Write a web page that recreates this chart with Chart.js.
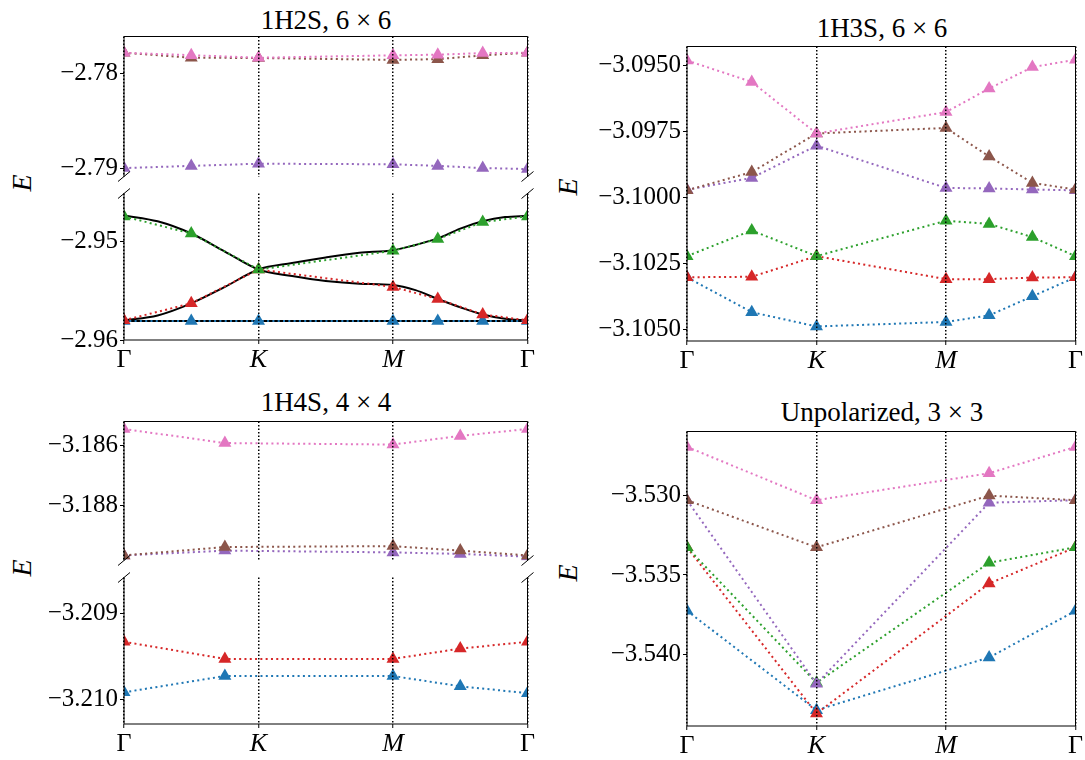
<!DOCTYPE html>
<html>
<head>
<meta charset="utf-8">
<script src="https://cdn.jsdelivr.net/npm/chart.js@4.4.0/dist/chart.umd.min.js"></script>
<style>
  body { margin: 0; background: #fff; width: 1085px; height: 760px; position: relative; overflow: hidden;
         font-family: 'Liberation Serif', 'DejaVu Serif', serif; color: #000; }
  canvas { position: absolute; }
  .title { position: absolute; font-size: 27px; line-height: 27px; white-space: nowrap; transform: translateX(-50%); }
  .ylab { position: absolute; font-size: 28px; line-height: 28px; font-style: italic; transform: translate(-50%, -50%) rotate(-90deg); }
</style>
</head>
<body>
<div class="title" style="left:326px; top:7px;">1H2S, 6 × 6</div>
<div class="title" style="left:882px; top:15px;">1H3S, 6 × 6</div>
<div class="title" style="left:326px; top:389px;">1H4S, 4 × 4</div>
<div class="title" style="left:882px; top:399px;">Unpolarized, 3 × 3</div>
<div class="ylab" style="left:22px; top:183px;">E</div>
<div class="ylab" style="left:568px; top:187px;">E</div>
<div class="ylab" style="left:22px; top:568px;">E</div>
<div class="ylab" style="left:568px; top:573px;">E</div>

<script>
// path Γ-K-M-Γ
const pathTicks = [0, 1, 2, 3];
const pathLabels = ['Γ', 'K', 'M', 'Γ'];

// k-points on the path for each grid
const k6 = [0, 0.5, 1, 2, 2.333, 2.667, 3];
const k4 = [0, 0.75, 2, 2.5, 3];
const k3 = [0, 1, 2.333, 3];
const kFine = [0, 0.25, 0.5, 0.75, 1, 1.25, 1.5, 1.75, 2, 2.167, 2.333, 2.5, 2.667, 2.833, 3];

// 1H2S, 6x6
const h2sPink   = [-2.77783, -2.77808, -2.77835, -2.77810, -2.77803, -2.77786, -2.77783];
const h2sBrown  = [-2.77783, -2.77835, -2.77838, -2.77858, -2.77850, -2.77810, -2.77783];
const h2sPurple = [-2.79000, -2.78977, -2.78954, -2.78960, -2.78977, -2.79000, -2.79010];
const h2sGreen  = [-2.94743, -2.94917, -2.95283, -2.95093, -2.94973, -2.94800, -2.94743];
const h2sRed    = [-2.95800, -2.95627, -2.95283, -2.95460, -2.95583, -2.95740, -2.95800];
const h2sBlue   = [-2.95807, -2.95807, -2.95807, -2.95807, -2.95807, -2.95807, -2.95807];
// black model bands (on kFine)
const h2sModelA = [-2.94733, -2.94793, -2.94917, -2.95100, -2.95283, -2.95350, -2.95400, -2.95427,
                   -2.95440, -2.95493, -2.95583, -2.95667, -2.95740, -2.95783, -2.95800];
const h2sModelB = [-2.95800, -2.95750, -2.95627, -2.95460, -2.95283, -2.95217, -2.95160, -2.95113,
                   -2.95087, -2.95033, -2.94967, -2.94867, -2.94793, -2.94750, -2.94737];
const h2sModelC = [-2.95807, -2.95807, -2.95807, -2.95807, -2.95807, -2.95807, -2.95807, -2.95807,
                   -2.95807, -2.95807, -2.95807, -2.95807, -2.95807, -2.95807, -2.95807];
const h2sTicksUp = [-2.78, -2.79];
const h2sTicksLo = [-2.95, -2.96];

// 1H3S, 6x6
const h3sPink   = [-3.09481, -3.09562, -3.09757, -3.09676, -3.09587, -3.09506, -3.09478];
const h3sBrown  = [-3.09972, -3.09903, -3.09757, -3.09736, -3.09844, -3.09944, -3.09969];
const h3sPurple = [-3.09970, -3.09925, -3.09803, -3.09963, -3.09965, -3.09969, -3.09972];
const h3sGreen  = [-3.10221, -3.10124, -3.10221, -3.10087, -3.10099, -3.10149, -3.10221];
const h3sRed    = [-3.10301, -3.10299, -3.10221, -3.10308, -3.10308, -3.10302, -3.10301];
const h3sBlue   = [-3.10301, -3.10433, -3.10487, -3.10470, -3.10445, -3.10373, -3.10301];
const h3sTicks  = [-3.0950, -3.0975, -3.1000, -3.1025, -3.1050];

// 1H4S, 4x4
const h4sPink   = [-3.18544, -3.18591, -3.18596, -3.18567, -3.18544];
const h4sBrown  = [-3.18966, -3.18938, -3.18935, -3.18950, -3.18966];
const h4sPurple = [-3.18966, -3.18950, -3.18956, -3.18961, -3.18970];
const h4sRed    = [-3.20933, -3.20953, -3.20953, -3.20941, -3.20933];
const h4sBlue   = [-3.20992, -3.20973, -3.20973, -3.20985, -3.20993];
const h4sTicksUp = [-3.186, -3.188];
const h4sTicksLo = [-3.209, -3.210];

// Unpolarized, 3x3
const unpPink   = [-3.52693, -3.53029, -3.52859, -3.52693];
const unpBrown  = [-3.53029, -3.53326, -3.53000, -3.53029];
const unpPurple = [-3.53029, -3.54186, -3.53045, -3.53029];
const unpGreen  = [-3.53326, -3.54180, -3.53423, -3.53326];
const unpRed    = [-3.53326, -3.54373, -3.53554, -3.53326];
const unpBlue   = [-3.53726, -3.54352, -3.54020, -3.53726];
const unpTicks  = [-3.530, -3.535, -3.540];

const C = { blue: '#1f77b4', red: '#d62728', green: '#2ca02c', purple: '#9467bd', brown: '#8c564b', pink: '#e377c2' };
// matplotlib draw order: blue, red, green, purple, brown, pink (pink on top)
const ORDER = { blue: 6, red: 5, green: 4, purple: 3, brown: 2, pink: 1 };
const FONT = "'Liberation Serif', 'DejaVu Serif', serif";

function band(xs, ys, name) {
  return {
    data: xs.map((x, i) => ({ x: x, y: ys[i] })),
    borderColor: C[name], backgroundColor: C[name],
    borderWidth: 2, borderDash: [2, 3.3], borderCapStyle: 'butt',
    pointStyle: 'triangle', pointRadius: 7.5, pointHoverRadius: 7.5, pointBorderWidth: 0,
    order: ORDER[name]
  };
}

function model(xs, ys) {
  return {
    data: xs.map((x, i) => ({ x: x, y: ys[i] })),
    borderColor: '#000', borderWidth: 2, pointRadius: 0, pointHoverRadius: 0,
    cubicInterpolationMode: 'monotone', order: 10
  };
}

const framePlugin = {
  id: 'frame',
  afterDraw(chart, args, o) {
    const ctx = chart.ctx, a = chart.chartArea;
    ctx.save();
    ctx.strokeStyle = '#000';
    ctx.lineWidth = 1;
    ctx.beginPath();
    if (o.top) { ctx.moveTo(a.left, a.top); ctx.lineTo(a.right, a.top); }
    if (o.bottom) { ctx.moveTo(a.left, a.bottom); ctx.lineTo(a.right, a.bottom); }
    ctx.moveTo(a.left, a.top); ctx.lineTo(a.left, a.bottom);
    ctx.moveTo(a.right, a.top); ctx.lineTo(a.right, a.bottom);
    if (o.brk) {
      const y = o.brk === 'bottom' ? a.bottom : a.top;
      [a.left, a.right].forEach(x => { ctx.moveTo(x - 6, y + 5); ctx.lineTo(x + 6, y - 5); });
    }
    ctx.stroke();
    ctx.restore();
  }
};

function fmt(v, d) {
  return (v < 0 ? '\u2212' : '') + Math.abs(v).toFixed(d);
}

function noPad(s) {
  s.paddingTop = 0; s.paddingBottom = 0; s.paddingLeft = 0; s.paddingRight = 0;
}

function panel(p) {
  const yW = p.L - p.canvasLeft, xH = p.xLabels ? 34 : 1, pt = 4, pr = 6;
  const w = yW + (p.R - p.L) + pr, h = pt + (p.B - p.T) + xH;
  const c = document.createElement('canvas');
  c.width = w; c.height = h;
  c.style.left = p.canvasLeft + 'px'; c.style.top = (p.T - pt) + 'px';
  c.style.width = w + 'px'; c.style.height = h + 'px';
  document.body.appendChild(c);

  new Chart(c, {
    type: 'line',
    data: { datasets: p.datasets },
    plugins: [framePlugin],
    options: {
      responsive: false, maintainAspectRatio: false, animation: false, events: [],
      devicePixelRatio: 1,
      layout: { padding: { top: pt, right: pr, left: 0, bottom: 0 } },
      plugins: { legend: { display: false }, tooltip: { enabled: false },
                 frame: { top: p.top, bottom: p.bottom, brk: p.brk } },
      scales: {
        x: {
          type: 'linear', min: 0, max: 3,
          afterBuildTicks: s => { s.ticks = pathTicks.map(v => ({ value: v })); },
          afterFit: s => { s.height = xH; noPad(s); },
          grid: { color: '#000', lineWidth: 1.5, z: 1, drawTicks: !!p.xLabels,
                  tickLength: 4, tickColor: '#000', tickWidth: 1 },
          border: { display: false, dash: [1.5, 2] },
          ticks: {
            display: !!p.xLabels, autoSkip: false, maxRotation: 0, padding: 1, color: '#000',
            callback: (v, i) => pathLabels[i],
            font: ctx => ({ family: FONT, size: 26, style: (ctx.index === 1 || ctx.index === 2) ? 'italic' : 'normal' })
          }
        },
        y: {
          min: p.ymin, max: p.ymax,
          afterBuildTicks: s => { s.ticks = p.yTicks.map(v => ({ value: v })); },
          afterFit: s => { s.width = yW; noPad(s); },
          grid: { drawOnChartArea: false, drawTicks: true, tickLength: 4, tickColor: '#000', tickWidth: 1 },
          border: { display: false },
          ticks: { autoSkip: false, padding: 2, color: '#000', font: { family: FONT, size: 25 },
                   callback: v => fmt(v, p.dec) }
        }
      }
    }
  });
}

// 1H2S upper / lower
panel({ canvasLeft: 0, L: 124, R: 529, T: 33, B: 183, ymin: -2.79089, ymax: -2.77611,
        yTicks: h2sTicksUp, dec: 2, top: true, bottom: false, brk: 'bottom',
        datasets: [band(k6, h2sPurple, 'purple'), band(k6, h2sBrown, 'brown'), band(k6, h2sPink, 'pink')] });
panel({ canvasLeft: 0, L: 124, R: 529, T: 190, B: 340, ymin: -2.96, ymax: -2.9451,
        yTicks: h2sTicksLo, dec: 2, top: false, bottom: true, brk: 'top', xLabels: true,
        datasets: [model(kFine, h2sModelA), model(kFine, h2sModelB), model(kFine, h2sModelC),
                   band(k6, h2sBlue, 'blue'), band(k6, h2sRed, 'red'), band(k6, h2sGreen, 'green')] });

// 1H3S
panel({ canvasLeft: 560, L: 687, R: 1077, T: 43, B: 341, ymin: -3.10542, ymax: -3.09428,
        yTicks: h3sTicks, dec: 4, top: true, bottom: true, xLabels: true,
        datasets: [band(k6, h3sBlue, 'blue'), band(k6, h3sRed, 'red'), band(k6, h3sGreen, 'green'),
                   band(k6, h3sPurple, 'purple'), band(k6, h3sBrown, 'brown'), band(k6, h3sPink, 'pink')] });

// 1H4S upper / lower
panel({ canvasLeft: 0, L: 124, R: 529, T: 418, B: 567, ymin: -3.18983, ymax: -3.18519,
        yTicks: h4sTicksUp, dec: 3, top: true, bottom: false, brk: 'bottom',
        datasets: [band(k4, h4sPurple, 'purple'), band(k4, h4sBrown, 'brown'), band(k4, h4sPink, 'pink')] });
panel({ canvasLeft: 0, L: 124, R: 529, T: 574, B: 724, ymin: -3.21029, ymax: -3.20858,
        yTicks: h4sTicksLo, dec: 3, top: false, bottom: true, brk: 'top', xLabels: true,
        datasets: [band(k4, h4sBlue, 'blue'), band(k4, h4sRed, 'red')] });

// Unpolarized
panel({ canvasLeft: 560, L: 687, R: 1077, T: 428, B: 726, ymin: -3.54452, ymax: -3.52596,
        yTicks: unpTicks, dec: 3, top: true, bottom: true, xLabels: true,
        datasets: [band(k3, unpBlue, 'blue'), band(k3, unpRed, 'red'), band(k3, unpGreen, 'green'),
                   band(k3, unpPurple, 'purple'), band(k3, unpBrown, 'brown'), band(k3, unpPink, 'pink')] });
</script>
</body>
</html>
